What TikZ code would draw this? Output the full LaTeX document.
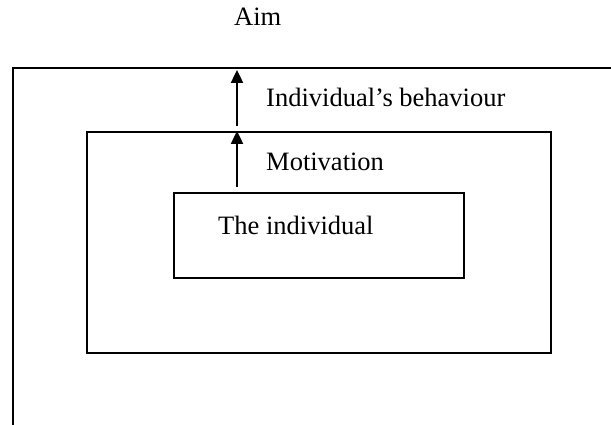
\documentclass[tikz,border=0pt]{standalone}
\usepackage{fontspec}
\setmainfont{Liberation Serif}
\usetikzlibrary{arrows.meta}
\begin{document}
\begin{tikzpicture}[x=1pt,y=-1pt,
  box/.style={draw, line width=2.2pt, inner sep=0pt, anchor=north west},
  lbl/.style={anchor=base west, inner sep=0pt, font=\fontsize{26.5}{31}\selectfont},
  up/.style={line width=2.4pt, -{Triangle[length=13pt,width=12pt]}}]
\useasboundingbox (0,0) rectangle (611,425);
\fill[white] (0,0) rectangle (611,425);
\clip (0,0) rectangle (611,425);
\node[box, minimum width=620pt, minimum height=380pt] (outer) at (12,67) {};
\node[box, minimum width=464pt, minimum height=221pt] (mid) at (86,131) {};
\node[box, minimum width=290pt, minimum height=85pt] (inner) at (173,192) {};
\coordinate (ax) at (237,0);
\draw[up, shorten <=5pt] (ax |- inner.north) -- (ax |- mid.north);
\draw[up, shorten <=5pt, shorten >=3pt] (ax |- mid.north) -- (ax |- outer.north);
\node[lbl] (aim) at (234,26) {Aim};
\node[lbl] (beh) at (266,107) {Individual’s behaviour};
\node[lbl] (mot) at (266,171) {Motivation};
\node[lbl] (ind) at (218,235) {The individual};
\end{tikzpicture}
\end{document}
